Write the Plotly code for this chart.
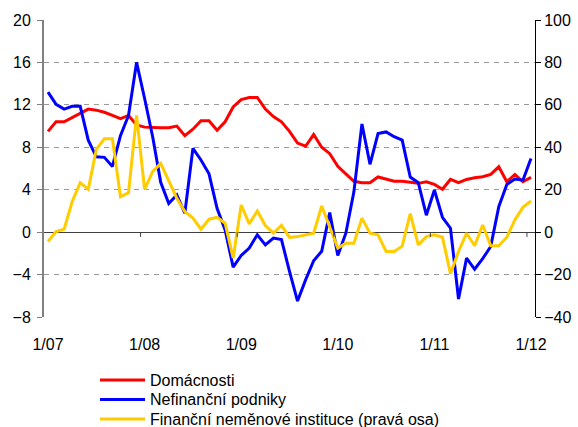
import plotly.graph_objects as go

# Monthly data, 1/2007 .. 1/2012 (61 months)
months = list(range(61))
tick_positions = [0, 12, 24, 36, 48, 60]
tick_labels = ["1/07", "1/08", "1/09", "1/10", "1/11", "1/12"]

series_names = ["Domácnosti", "Nefinanční podniky",
                "Finanční neměnové instituce (pravá osa)"]

domacnosti = [
    9.5, 10.4, 10.4, 10.8, 11.2, 11.6, 11.5, 11.3, 11.0, 10.7,
    11.0, 10.1, 9.9, 9.85, 9.85, 9.85, 10.0, 9.1, 9.7, 10.5,
    10.5, 9.6, 10.4, 11.8, 12.5, 12.7, 12.7, 11.6, 10.9, 10.4,
    9.5, 8.4, 8.1, 9.2, 8.0, 7.4, 6.2, 5.5, 4.8, 4.66,
    4.66, 5.2, 4.97, 4.8, 4.8, 4.7, 4.6, 4.75, 4.5, 4.05,
    4.97, 4.66, 4.97, 5.13, 5.22, 5.44, 6.16, 4.75, 5.44, 4.75,
    5.16,
]

nefinancni = [
    13.2, 12.05, 11.6, 11.86, 11.86, 8.67, 7.1, 7.05, 6.2, 9.1,
    11.0, 16.0, 12.6, 9.0, 4.7, 2.7, 3.5, 1.8, 7.9, 6.8,
    5.5, 2.25, 0.2, -3.3, -2.2, -1.5, -0.25, -1.2, -0.56, -0.7,
    -3.7, -6.5, -4.5, -2.7, -1.8, 1.84, -2.2, -0.1, 3.8, 10.2,
    6.4, 9.3, 9.45, 9.0, 8.67, 5.2, 4.66, 1.6, 3.97, 1.4,
    0.37, -6.3, -2.45, -3.5, -2.5, -1.35, 2.4, 4.5, 5.0, 4.9,
    6.95,
]

financni = [
    -4.4, 0.3, 1.4, 14.4, 23.3, 20.2, 39.0, 44.0, 44.0, 16.7,
    18.6, 55.0, 20.2, 28.5, 32.4, 24.6, 16.0, 9.7, 6.6, 1.4,
    6.1, 7.0, 4.2, -12.2, 12.8, 3.9, 10.0, 3.1, -0.5, 3.2,
    -2.5, -2.1, -1.3, -0.5, 12.3, 1.9, -7.5, -5.2, -5.2, 6.6,
    -0.5, -1.3, -9.1, -9.1, -6.6, 8.7, -6.0, -2.1, -1.3, -2.4,
    -19.6, -9.1, -0.5, -6.4, 3.4, -6.4, -6.4, -2.4, 5.8, 11.7,
    14.7,
]

left_ticks = [-8, -4, 0, 4, 8, 12, 16, 20]
right_ticks = [-40, -20, 0, 20, 40, 60, 80, 100]

colors = ["#FF0000", "#0000FF", "#FFCC00"]
FONT = "Liberation Sans, Arial, sans-serif"

fig = go.Figure()
fig.add_trace(go.Scatter(x=months, y=domacnosti, mode="lines", name=series_names[0],
                         line=dict(color=colors[0], width=3)))
fig.add_trace(go.Scatter(x=months, y=nefinancni, mode="lines", name=series_names[1],
                         line=dict(color=colors[1], width=3)))
fig.add_trace(go.Scatter(x=months, y=financni, mode="lines", name=series_names[2],
                         line=dict(color=colors[2], width=3), yaxis="y2"))

# small x tick marks on the zero line, between categories
for p in tick_positions[1:]:
    fig.add_shape(type="line", xref="x", yref="y", x0=p - 0.5, x1=p - 0.5,
                  y0=0, y1=-0.45, line=dict(color="#404040", width=1))

# legend below the plot (three rows, 20 px apart)
plot_left, plot_w = 44, 491
plot_top, plot_h = 20, 297
for k, (nm, col) in enumerate(zip(series_names, colors)):
    ypix = 380 + 19.5 * k
    yp = (plot_top + plot_h - ypix) / plot_h
    fig.add_shape(type="line", xref="paper", yref="paper",
                  x0=(100 - plot_left) / plot_w, x1=(145 - plot_left) / plot_w,
                  y0=yp, y1=yp, line=dict(color=col, width=3))
    fig.add_annotation(xref="paper", yref="paper", x=(148 - plot_left) / plot_w, y=yp,
                       xanchor="left", yanchor="middle", text=nm, showarrow=False,
                       font=dict(family=FONT, size=16, color="black"))

fig.update_layout(
    width=578, height=427,
    margin=dict(l=44, r=43, t=20, b=110, autoexpand=False),
    paper_bgcolor="white", plot_bgcolor="white",
    font=dict(family=FONT, size=16, color="black"),
    showlegend=False,
    xaxis=dict(range=[-0.5, 60.5], tickmode="array", tickvals=tick_positions,
               ticktext=tick_labels, showgrid=False, zeroline=False,
               showline=False, ticks="outside", ticklen=13,
               tickcolor="rgba(0,0,0,0)", tickfont=dict(size=16), automargin=False),
    yaxis=dict(range=[-8, 20], tickmode="array", tickvals=left_ticks,
               showgrid=True, gridcolor="#9a9a9a", griddash="5px,5px", gridwidth=1,
               zeroline=True, zerolinecolor="#404040", zerolinewidth=1,
               showline=True, linecolor="#808080", linewidth=2,
               ticks="outside", ticklen=5, tickcolor="#808080",
               ticklabelstandoff=3, tickfont=dict(size=16), automargin=False),
    yaxis2=dict(range=[-40, 100], tickmode="array", tickvals=right_ticks,
                overlaying="y", side="right", showgrid=False, zeroline=False,
                showline=True, linecolor="black", linewidth=1,
                ticks="outside", ticklen=5, tickcolor="black",
                tickfont=dict(size=16), automargin=False),
)

fig.write_html("out.html",
               config={"displayModeBar": False},
               post_script="document.body.style.margin='0';"
                           "document.body.style.overflow='hidden';")
